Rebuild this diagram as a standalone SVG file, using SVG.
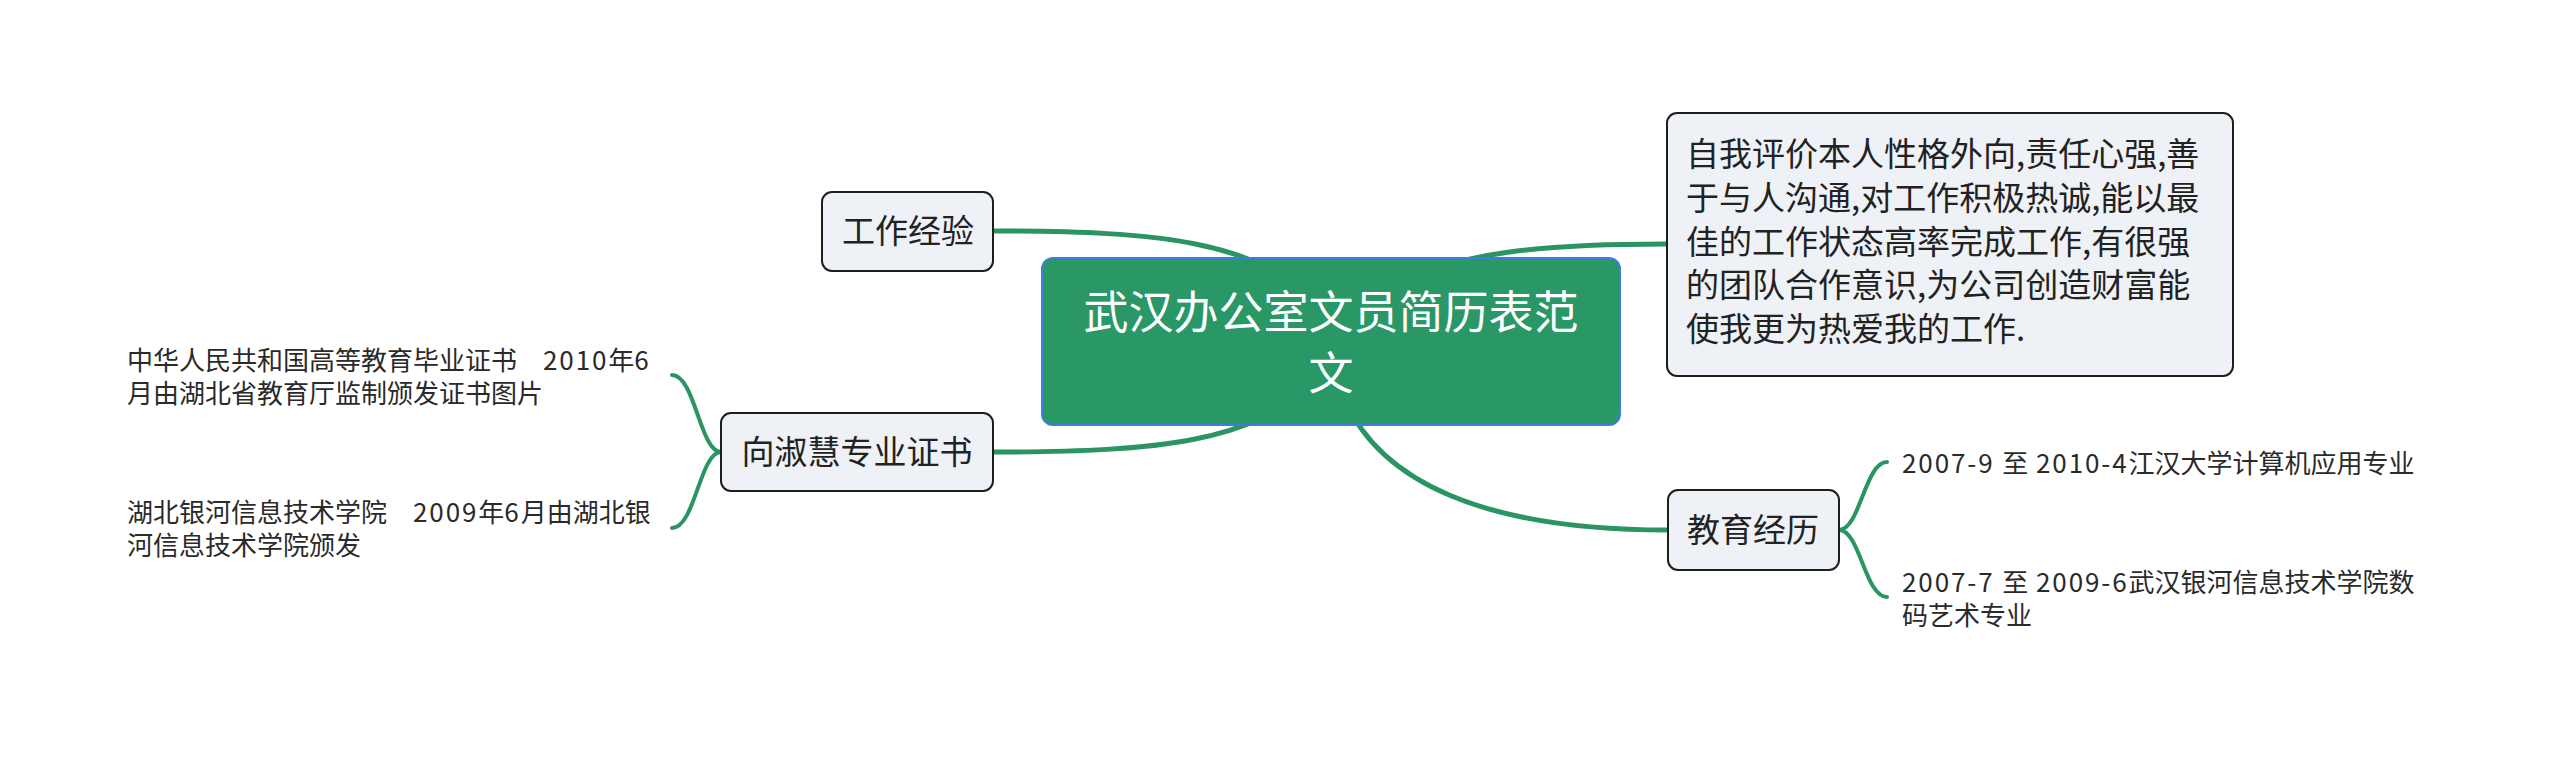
<svg xmlns="http://www.w3.org/2000/svg" width="2560" height="759" viewBox="0 0 2560 759">
<style>
.edge{fill:none;stroke:#2a9463;stroke-width:5;stroke-linecap:round}
.leafedge{fill:none;stroke:#2a9463;stroke-width:4;stroke-linecap:round}
.box{fill:#eef1f5;stroke:#1e1e1e;stroke-width:2}
.t{font-family:"Noto Sans CJK SC","Microsoft YaHei",sans-serif;fill:#222}
.n{font-size:33px;text-anchor:middle}
.leaf{font-size:26px;fill:#2a2a2a}
.num{letter-spacing:1.9px}
.main{font-size:45px;fill:#ffffff;text-anchor:middle}
.desc{font-size:33px}
</style>
<rect width="2560" height="759" fill="#ffffff"/>
<g id="connectors">
<path class="edge" d="M 994 231 C 1165 231 1250 242 1315 300"/>
<path class="edge" d="M 993 452 C 1165 452 1250 441 1315 383"/>
<path class="edge" d="M 1667 244 C 1550 244 1455 250 1380 292"/>
<path class="edge" d="M 1668 530 C 1480 530 1380 480 1345 400"/>
<path class="leafedge" d="M 721 452 C 700 452 695 375 672 375"/>
<path class="leafedge" d="M 721 452 C 700 452 695 528 672 528"/>
<path class="leafedge" d="M 1839 530 C 1860 530 1865 462 1887 462"/>
<path class="leafedge" d="M 1839 530 C 1860 530 1865 597 1887 597"/>
</g>
<g id="central">
<rect x="1042" y="258" width="578" height="167" rx="11" fill="#299766" stroke="#3c7de0" stroke-width="2"/>
<text class="t main" x="1331" y="329">武汉办公室文员简历表范</text>
<text class="t main" x="1331" y="390">文</text>
</g>
<g id="node-work">
<rect class="box" x="822" y="192" width="171" height="79" rx="10"/>
<text class="t n" x="908" y="243">工作经验</text>
</g>
<g id="node-cert">
<rect class="box" x="721" y="413" width="272" height="78" rx="10"/>
<text class="t n" x="857" y="464">向淑慧专业证书</text>
</g>
<g id="node-self">
<rect class="box" x="1667" y="113" width="566" height="263" rx="10"/>
<text class="t desc" x="1686" y="166">自我评价本人性格外向,责任心强,善</text>
<text class="t desc" x="1686" y="210">于与人沟通,对工作积极热诚,能以最</text>
<text class="t desc" x="1686" y="254">佳的工作状态高率完成工作,有很强</text>
<text class="t desc" x="1686" y="297">的团队合作意识,为公司创造财富能</text>
<text class="t desc" x="1686" y="341">使我更为热爱我的工作.</text>
</g>
<g id="node-edu">
<rect class="box" x="1668" y="490" width="171" height="80" rx="10"/>
<text class="t n" x="1753" y="542">教育经历</text>
</g>
<g id="leaf-cert1">
<text class="t leaf" x="127" y="370">中华人民共和国高等教育毕业证书　<tspan class="num">2010</tspan>年<tspan class="num">6</tspan></text>
<text class="t leaf" x="127" y="403">月由湖北省教育厅监制颁发证书图片</text>
</g>
<g id="leaf-cert2">
<text class="t leaf" x="127" y="522">湖北银河信息技术学院　<tspan class="num">2009</tspan>年<tspan class="num">6</tspan>月由湖北银</text>
<text class="t leaf" x="127" y="555">河信息技术学院颁发</text>
</g>
<g id="leaf-edu1">
<text class="t leaf" x="1902" y="473"><tspan class="num">2007-9 </tspan>至<tspan class="num"> 2010-4</tspan>江汉大学计算机应用专业</text>
</g>
<g id="leaf-edu2">
<text class="t leaf" x="1902" y="592"><tspan class="num">2007-7 </tspan>至<tspan class="num"> 2009-6</tspan>武汉银河信息技术学院数</text>
<text class="t leaf" x="1902" y="625">码艺术专业</text>
</g>
</svg>
